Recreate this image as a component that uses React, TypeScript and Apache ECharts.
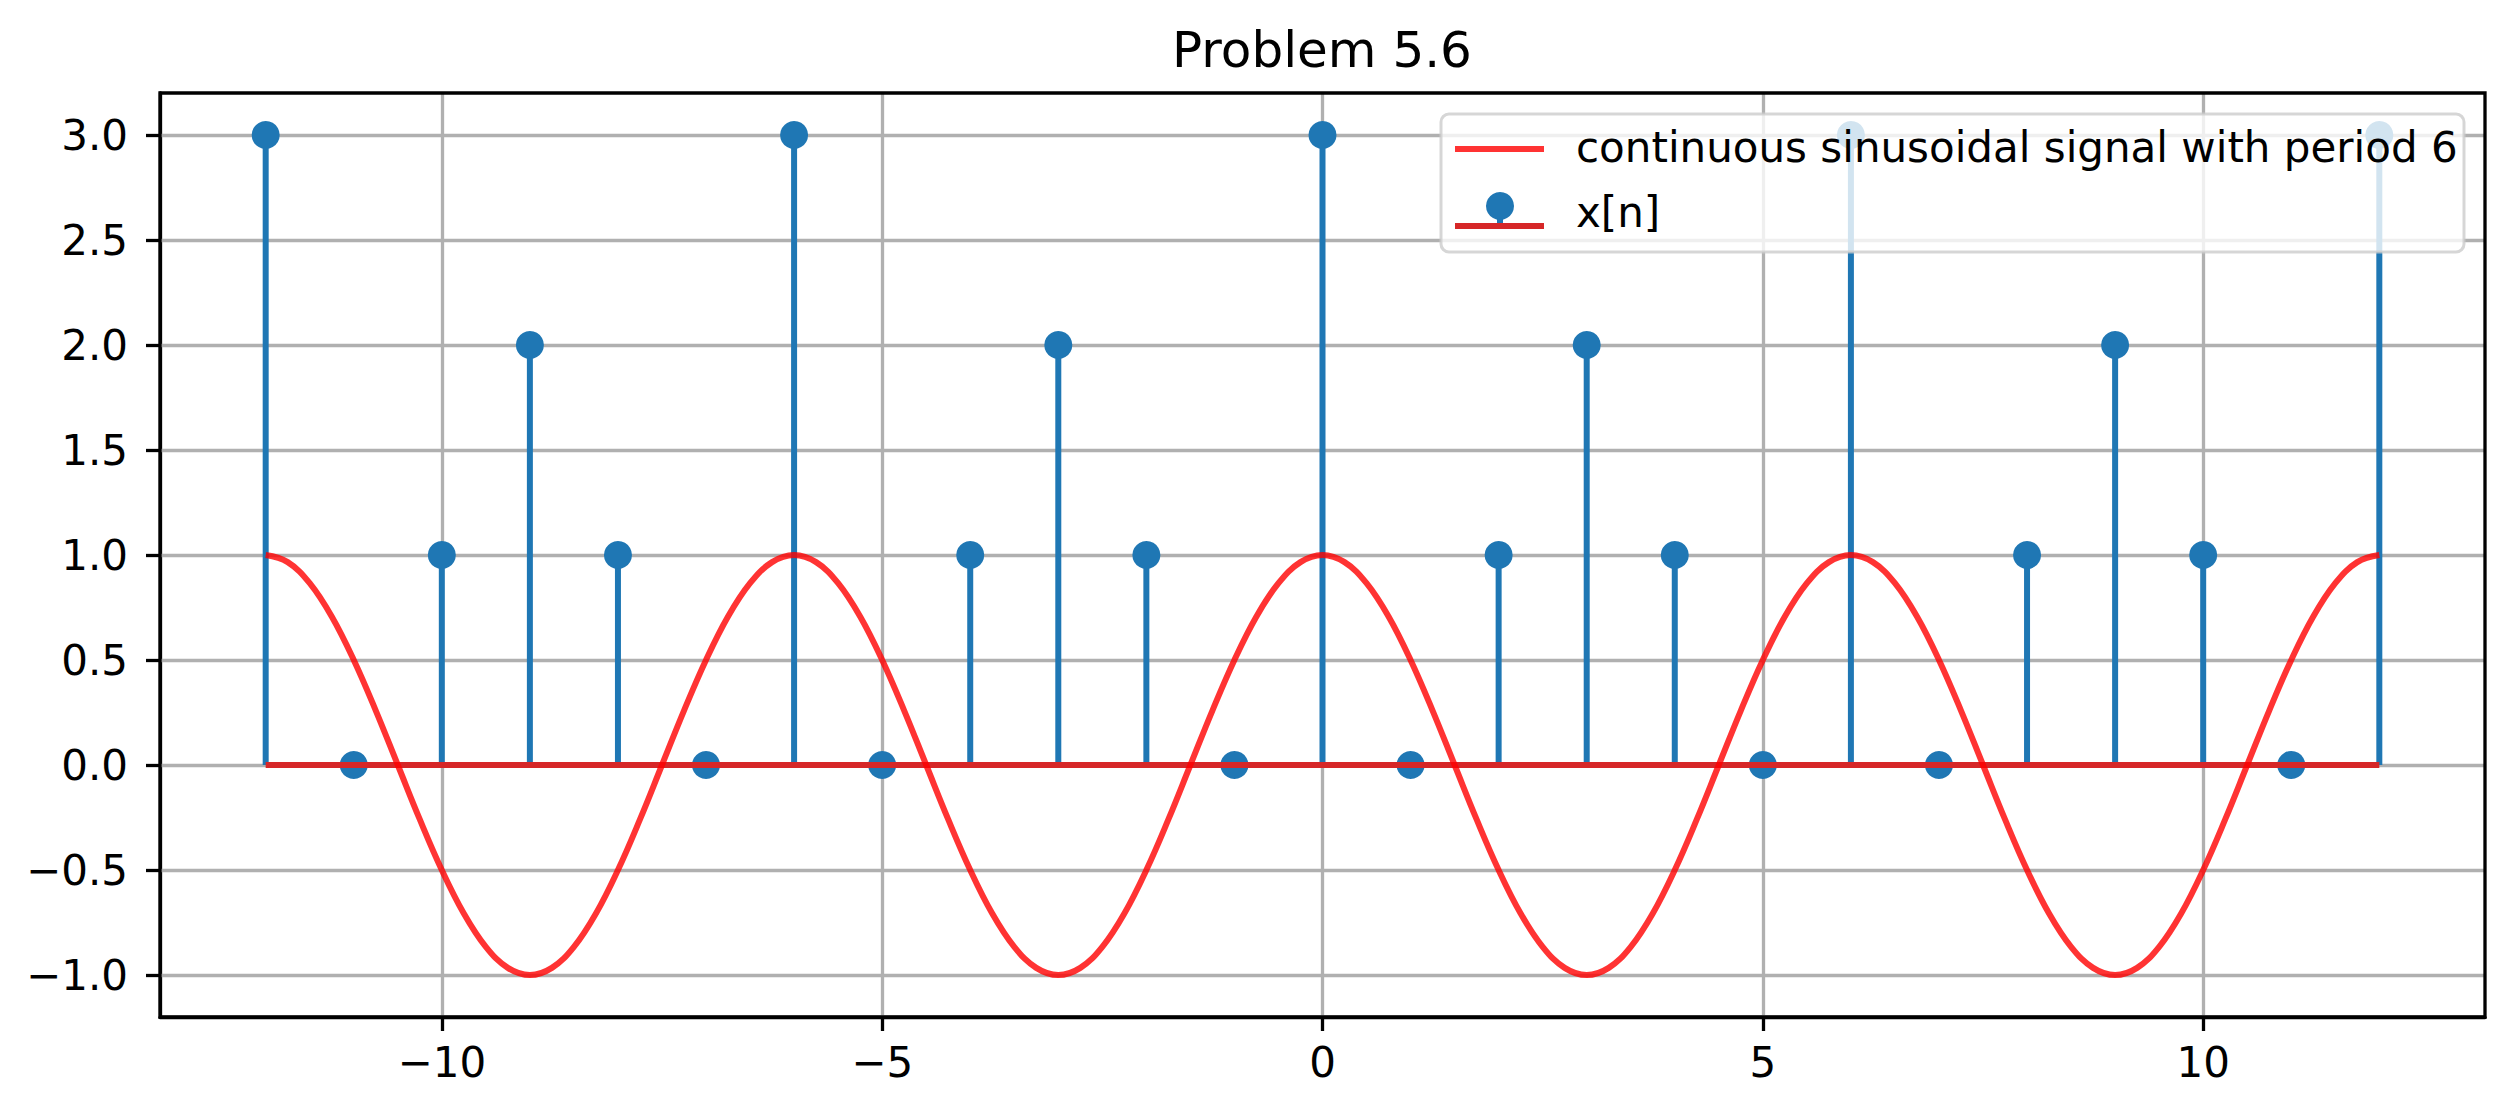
import React, { useEffect, useRef } from "react";
import * as echarts from "echarts";

const nValues = [-12, -11, -10, -9, -8, -7, -6, -5, -4, -3, -2, -1, 0, 1, 2, 3, 4, 5, 6, 7, 8, 9, 10, 11, 12];
const xnValues = [3, 0, 1, 2, 1, 0, 3, 0, 1, 2, 1, 0, 3, 0, 1, 2, 1, 0, 3, 0, 1, 2, 1, 0, 3];

const tValues = [
  -12, -11.75, -11.5, -11.25, -11, -10.75, -10.5, -10.25, -10, -9.75, -9.5, -9.25,
  -9, -8.75, -8.5, -8.25, -8, -7.75, -7.5, -7.25, -7, -6.75, -6.5, -6.25,
  -6, -5.75, -5.5, -5.25, -5, -4.75, -4.5, -4.25, -4, -3.75, -3.5, -3.25,
  -3, -2.75, -2.5, -2.25, -2, -1.75, -1.5, -1.25, -1, -0.75, -0.5, -0.25,
  0, 0.25, 0.5, 0.75, 1, 1.25, 1.5, 1.75, 2, 2.25, 2.5, 2.75,
  3, 3.25, 3.5, 3.75, 4, 4.25, 4.5, 4.75, 5, 5.25, 5.5, 5.75,
  6, 6.25, 6.5, 6.75, 7, 7.25, 7.5, 7.75, 8, 8.25, 8.5, 8.75,
  9, 9.25, 9.5, 9.75, 10, 10.25, 10.5, 10.75, 11, 11.25, 11.5, 11.75,
  12,
];
const curveValues = [
  1, 0.966, 0.866, 0.707, 0.5, 0.259, 0, -0.259, -0.5, -0.707, -0.866, -0.966,
  -1, -0.966, -0.866, -0.707, -0.5, -0.259, 0, 0.259, 0.5, 0.707, 0.866, 0.966,
  1, 0.966, 0.866, 0.707, 0.5, 0.259, 0, -0.259, -0.5, -0.707, -0.866, -0.966,
  -1, -0.966, -0.866, -0.707, -0.5, -0.259, 0, 0.259, 0.5, 0.707, 0.866, 0.966,
  1, 0.966, 0.866, 0.707, 0.5, 0.259, 0, -0.259, -0.5, -0.707, -0.866, -0.966,
  -1, -0.966, -0.866, -0.707, -0.5, -0.259, 0, 0.259, 0.5, 0.707, 0.866, 0.966,
  1, 0.966, 0.866, 0.707, 0.5, 0.259, 0, -0.259, -0.5, -0.707, -0.866, -0.966,
  -1, -0.966, -0.866, -0.707, -0.5, -0.259, 0, 0.259, 0.5, 0.707, 0.866, 0.966,
  1,
];

const xTicks = [-10, -5, 0, 5, 10];
const yTicks = [-1, -0.5, 0, 0.5, 1, 1.5, 2, 2.5, 3];

const titleText = "Problem 5.6";
const curveLabel = "continuous sinusoidal signal with period 6";
const stemLabel = "x[n]";

const FONT = "DejaVu Sans";
const BLUE = "#1f77b4";
const CURVE = "rgba(255,0,0,0.8)";
const BASE = "#d62728";

export default function App() {
  const ref = useRef<HTMLDivElement>(null);
  useEffect(() => {
    if (!ref.current) return;
    const chart = echarts.init(ref.current, undefined, { renderer: "svg" });
    const stemData = nValues.map((n, i) => [n, xnValues[i]]);
    const curveData = tValues.map((t, i) => [t, curveValues[i]]);
    const gridLineData = [
      ...xTicks.map((v) => ({ xAxis: v })),
      ...yTicks.map((v) => ({ yAxis: v })),
    ];
    const option: any = {
      animation: false,
      backgroundColor: "#ffffff",
      grid: { left: 160, right: 30, top: 93, bottom: 101, show: false },
      xAxis: {
        type: "value",
        min: -13.2,
        max: 13.2,
        axisLine: { show: true, onZero: false, lineStyle: { color: "#000", width: 3.3 } },
        axisTick: { show: true, customValues: xTicks, length: 14, inside: false, lineStyle: { color: "#000", width: 3.3 } },
        axisLabel: {
          customValues: xTicks,
          margin: 24,
          color: "#000",
          fontFamily: FONT,
          fontSize: 42,
          formatter: (v: number) => String(v).replace("-", "\u2212"),
        },
        splitLine: { show: false },
      },
      yAxis: {
        type: "value",
        min: -1.2,
        max: 3.2,
        axisLine: { show: true, onZero: false, lineStyle: { color: "#000", width: 3.3 } },
        axisTick: { show: true, customValues: yTicks, length: 14, inside: false, lineStyle: { color: "#000", width: 3.3 } },
        axisLabel: {
          customValues: yTicks,
          margin: 32,
          color: "#000",
          fontFamily: FONT,
          fontSize: 42,
          formatter: (v: number) => v.toFixed(1).replace("-", "\u2212"),
        },
        splitLine: { show: false },
      },
      series: [
        {
          type: "line",
          data: [[0, 0]],
          symbol: "none",
          lineStyle: { opacity: 0 },
          z: 1,
          silent: true,
          markLine: {
            z: 1,
            silent: true,
            symbol: ["none", "none"],
            label: { show: false },
            lineStyle: { color: "#b0b0b0", width: 3.3, type: "solid" },
            emphasis: { disabled: true },
            data: gridLineData,
          },
        },
        {
          type: "custom",
          z: 2,
          data: stemData,
          renderItem: (params: any, api: any) => {
            const x = api.value(0);
            const y = api.value(1);
            const p0 = api.coord([x, 0]);
            const p1 = api.coord([x, y]);
            return {
              type: "line",
              shape: { x1: p0[0], y1: p0[1], x2: p1[0], y2: p1[1] },
              style: { stroke: BLUE, lineWidth: 6 },
            };
          },
        },
        {
          type: "scatter",
          z: 3,
          data: stemData,
          symbol: "circle",
          symbolSize: 28,
          itemStyle: { color: BLUE, opacity: 1 },
        },
        {
          type: "line",
          z: 4,
          data: [[-12, 0], [12, 0]],
          symbol: "none",
          lineStyle: { color: BASE, width: 6, opacity: 1 },
        },
        {
          type: "line",
          z: 5,
          data: curveData,
          symbol: "none",
          smooth: 0.4,
          lineStyle: { color: CURVE, width: 6 },
        },
      ],
      graphic: [
        {
          type: "rect",
          z: 50,
          silent: true,
          shape: { x: 160, y: 93, width: 2325, height: 924 },
          style: { fill: "none", stroke: "#000", lineWidth: 3.3 },
        },
        {
          type: "text",
          z: 50,
          x: 1322,
          y: 50,
          style: { text: titleText, fill: "#000", font: `50px '${FONT}'`, align: "center", verticalAlign: "middle" },
        },
        {
          type: "rect",
          z: 60,
          shape: { x: 1441, y: 114, width: 1023, height: 138, r: 8 },
          style: { fill: "rgba(255,255,255,0.8)", stroke: "rgba(204,204,204,0.8)", lineWidth: 3 },
        },
        {
          type: "line",
          z: 61,
          shape: { x1: 1455, y1: 149, x2: 1544, y2: 149 },
          style: { stroke: CURVE, lineWidth: 6 },
        },
        {
          type: "line",
          z: 61,
          shape: { x1: 1500, y1: 206, x2: 1500, y2: 226 },
          style: { stroke: BLUE, lineWidth: 6 },
        },
        {
          type: "circle",
          z: 62,
          shape: { cx: 1500, cy: 206, r: 14 },
          style: { fill: BLUE },
        },
        {
          type: "line",
          z: 63,
          shape: { x1: 1455, y1: 226, x2: 1544, y2: 226 },
          style: { stroke: BASE, lineWidth: 6 },
        },
        {
          type: "text",
          z: 63,
          x: 1576,
          y: 147,
          style: { text: curveLabel, fill: "#000", font: `42px '${FONT}'`, align: "left", verticalAlign: "middle" },
        },
        {
          type: "text",
          z: 63,
          x: 1576,
          y: 212,
          style: { text: stemLabel, fill: "#000", font: `42px '${FONT}'`, align: "left", verticalAlign: "middle" },
        },
      ],
    };
    chart.setOption(option);
    return () => chart.dispose();
  }, []);
  return (
    <div
      ref={ref}
      style={{ position: "fixed", left: 0, top: 0, width: 2515, height: 1118, background: "#fff" }}
    />
  );
}
